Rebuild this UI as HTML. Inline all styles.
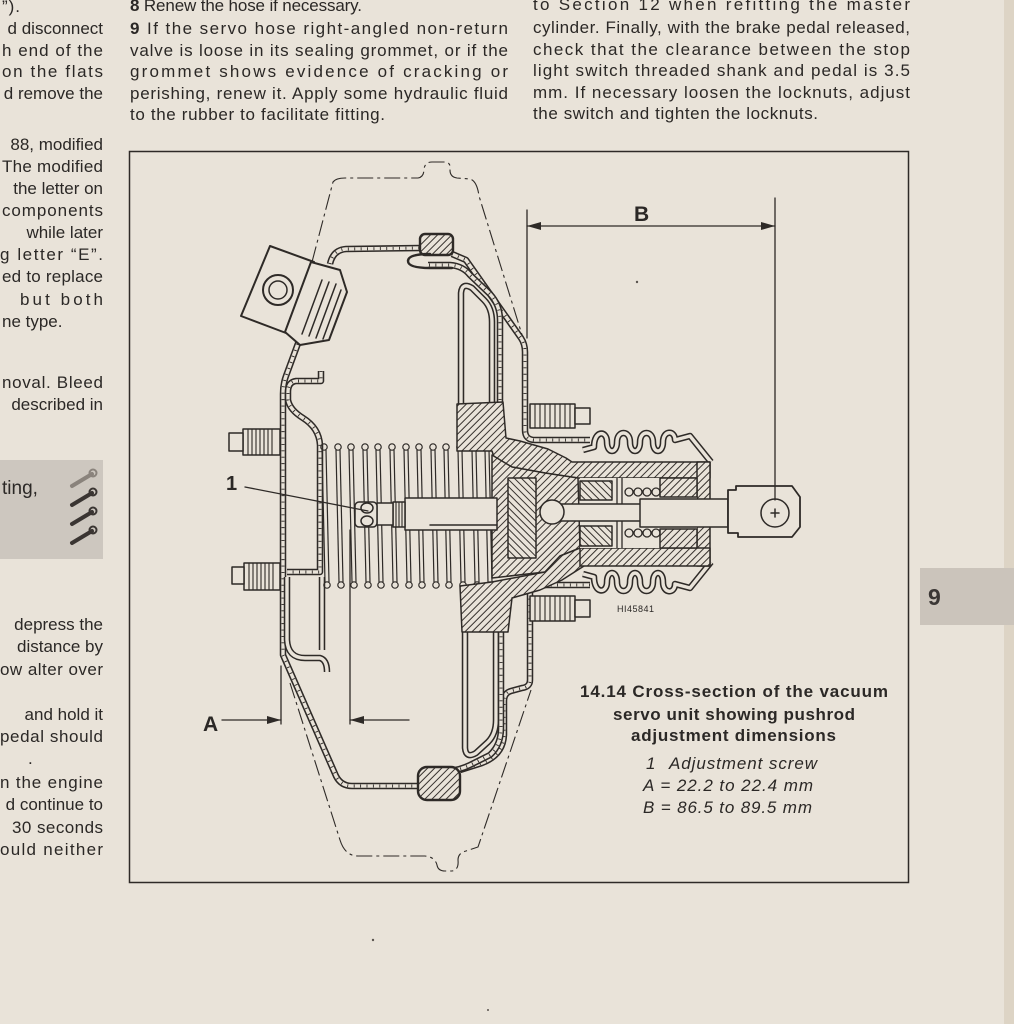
<!DOCTYPE html>
<html><head><meta charset="utf-8">
<style>
html,body{margin:0;padding:0;background:#e9e3d9;}
svg{display:block}
.t{font-family:"Liberation Sans",Arial,sans-serif;font-size:17px;fill:#2b2826}
.b{font-weight:bold}
.i{font-style:italic}
.l{fill:none;stroke:#2e2a27;stroke-width:1.5;stroke-linejoin:round;stroke-linecap:round}
.lf{stroke:#2e2a27;stroke-width:1.5;stroke-linejoin:round}
.d1{fill:none;stroke:#2e2a27;stroke-width:6.5;stroke-linejoin:round}
.d2{fill:none;stroke:#e9e3d9;stroke-width:3.4;stroke-linejoin:round}
.d3{fill:none;stroke:#2e2a27;stroke-width:3;stroke-dasharray:0.9 5.5}
.ph{fill:none;stroke:#2e2a27;stroke-width:1.1;stroke-dasharray:16 4 3 4}
.th{stroke:#2e2a27;stroke-width:1.1}
</style></head><body>
<svg width="1014" height="1024" viewBox="0 0 1014 1024" xmlns="http://www.w3.org/2000/svg">
<defs>
<pattern id="h" width="5" height="5" patternUnits="userSpaceOnUse" patternTransform="rotate(45)"><rect width="5" height="5" fill="#e9e3d9"/><line x1="0.5" y1="0" x2="0.5" y2="5" stroke="#37322e" stroke-width="1"/></pattern>
<pattern id="g" width="5" height="5" patternUnits="userSpaceOnUse" patternTransform="rotate(-45)"><rect width="5" height="5" fill="#e9e3d9"/><line x1="0.5" y1="0" x2="0.5" y2="5" stroke="#37322e" stroke-width="1"/></pattern>
<path id="sRear" d="M 300,338 L 286,376 Q 283,384 283,394 L 283,655 L 336,776 Q 341,786 352,786 L 420,786"/>
<path id="sFT1" d="M 330,264 Q 333,250 346,249 L 421,248"/>
<path id="sFT2" d="M 452,254 L 466,260 L 521,338 Q 525,344 525,352 L 525,430 Q 525,440 535,440 L 590,440"/>
<path id="sFB" d="M 590,585 L 538,585 Q 530,585 530,594 L 530,680 Q 530,687 522,688 L 511,691 Q 504,693 504,701 L 504,735 Q 503,755 482,763 L 460,770"/>
<path id="sPT" d="M 461,404 L 461,293 Q 462,282 472,288 L 484,300 Q 492,308 492,322 L 492,404"/>
<path id="sDT" d="M 500,432 L 500,320 Q 500,305 490,294 L 470,275 Q 463,266 450,265 L 428,265"/>
<path id="sPB" d="M 465,622 L 465,748 Q 466,759 476,753 L 488,742 Q 496,734 496,720 L 496,632"/>
<path id="sDB" d="M 501,630 L 501,728 Q 501,745 490,755 L 470,765 Q 460,770 448,771 L 428,772"/>
<path id="sRI" d="M 321,371 L 321,381 L 296,381 Q 288,382 288,392 L 288,400 Q 290,410 303,418 Q 319,428 320,445 L 320,572 L 287,572"/>
<path id="sRI3" d="M 322,577 L 322,650 M 287,577 L 287,640 Q 288,658 305,658 L 320,658 Q 327,660 327,672"/>
<path id="bootT" d="M 583,450 L 594,447 C 594,430 607,430 607,442 C 607,454 617,454 617,442 C 617,430 630,430 630,442 C 630,454 640,454 640,442 C 640,430 653,430 653,442 C 653,454 663,454 663,442 C 663,430 675,430 675,440 L 690,436 L 711,462"/>
<path id="bootB" d="M 583,574 L 594,577 C 594,594 607,594 607,582 C 607,570 617,570 617,582 C 617,594 630,594 630,582 C 630,570 640,570 640,582 C 640,594 653,594 653,582 C 653,570 663,570 663,582 C 663,594 675,594 675,584 L 690,588 L 711,562"/>
</defs>

<rect width="1014" height="1024" fill="#e9e3d9"/>
<rect x="1004" y="0" width="10" height="1024" fill="#ddd4c5"/>

<!-- grey boxes -->
<rect x="0" y="460" width="103" height="99" fill="#cdc7bf"/>
<rect x="920" y="568" width="94" height="57" fill="#cbc4bb"/>
<text x="928" y="605" class="t b" style="font-size:23px;fill:#3b3735">9</text>
<text x="2" y="494" class="t" style="font-size:19px">ting,</text>
<g stroke-linecap="round">
<line x1="72" y1="486" x2="92" y2="474" stroke="#8a837c" stroke-width="4"/>
<line x1="72" y1="505" x2="92" y2="493" stroke="#3a3532" stroke-width="4"/>
<line x1="72" y1="524" x2="92" y2="512" stroke="#3a3532" stroke-width="4"/>
<line x1="72" y1="543" x2="92" y2="531" stroke="#3a3532" stroke-width="4"/>
<circle cx="93" cy="473" r="3.5" fill="none" stroke="#8a837c" stroke-width="2"/>
<circle cx="93" cy="492" r="3.5" fill="none" stroke="#3a3532" stroke-width="2"/>
<circle cx="93" cy="511" r="3.5" fill="none" stroke="#3a3532" stroke-width="2"/>
<circle cx="93" cy="530" r="3.5" fill="none" stroke="#3a3532" stroke-width="2"/>
</g>

<!-- text columns -->
<g class="t">
<text x="130" y="11" textLength="232" lengthAdjust="spacing"><tspan class="b">8</tspan> Renew the hose if necessary.</text>
<text x="130" y="34" textLength="378" lengthAdjust="spacing"><tspan class="b">9</tspan> If the servo hose right-angled non-return</text>
<text x="130" y="56" textLength="378" lengthAdjust="spacing">valve is loose in its sealing grommet, or if the</text>
<text x="130" y="77" textLength="378" lengthAdjust="spacing">grommet shows evidence of cracking or</text>
<text x="130" y="99" textLength="378" lengthAdjust="spacing">perishing, renew it. Apply some hydraulic fluid</text>
<text x="130" y="120" textLength="255" lengthAdjust="spacing">to the rubber to facilitate fitting.</text>

<text x="533" y="10" textLength="377" lengthAdjust="spacing">to Section 12 when refitting the master</text>
<text x="533" y="33" textLength="377" lengthAdjust="spacing">cylinder. Finally, with the brake pedal released,</text>
<text x="533" y="55" textLength="377" lengthAdjust="spacing">check that the clearance between the stop</text>
<text x="533" y="76" textLength="377" lengthAdjust="spacing">light switch threaded shank and pedal is 3.5</text>
<text x="533" y="98" textLength="377" lengthAdjust="spacing">mm. If necessary loosen the locknuts, adjust</text>
<text x="533" y="119" textLength="285" lengthAdjust="spacing">the switch and tighten the locknuts.</text>

<text x="2" y="12" textLength="18" lengthAdjust="spacing">”).</text>
<text x="103" y="34" text-anchor="end">d disconnect</text>
<text x="2" y="56" textLength="101" lengthAdjust="spacing">h end of the</text>
<text x="2" y="77" textLength="101" lengthAdjust="spacing">on the flats</text>
<text x="103" y="99" text-anchor="end">d remove the</text>

<text x="103" y="150" text-anchor="end">88, modified</text>
<text x="2" y="172" textLength="101" lengthAdjust="spacing">The modified</text>
<text x="103" y="194" text-anchor="end">the letter on</text>
<text x="2" y="216" textLength="101" lengthAdjust="spacing">components</text>
<text x="103" y="238" text-anchor="end">while later</text>
<text x="0" y="260" textLength="103" lengthAdjust="spacing">g letter “E”.</text>
<text x="2" y="282" textLength="101" lengthAdjust="spacing">ed to replace</text>
<text x="20" y="305" textLength="83" lengthAdjust="spacing">but    both</text>
<text x="2" y="327">ne type.</text>
<text x="2" y="388" textLength="101" lengthAdjust="spacing">noval. Bleed</text>
<text x="103" y="410" text-anchor="end">described in</text>

<text x="103" y="630" text-anchor="end">depress the</text>
<text x="103" y="652" text-anchor="end">distance by</text>
<text x="0" y="675" textLength="103" lengthAdjust="spacing">ow alter over</text>
<text x="103" y="720" text-anchor="end">and hold it</text>
<text x="0" y="742" textLength="103" lengthAdjust="spacing">pedal should</text>
<text x="28" y="764">.</text>
<text x="0" y="788" textLength="103" lengthAdjust="spacing">n the engine</text>
<text x="103" y="810" text-anchor="end">d continue to</text>
<text x="12" y="833" textLength="91" lengthAdjust="spacing">30 seconds</text>
<text x="0" y="855" textLength="103" lengthAdjust="spacing">ould neither</text>
</g>

<!-- frame -->
<rect x="129.5" y="151.5" width="779" height="731" fill="none" stroke="#2e2a27" stroke-width="1.5"/>

<!-- phantom outline -->
<path class="ph" d="M 312,262 L 333,182 Q 336,178 345,178 L 418,178 Q 424,177 424,169 Q 425,162 432,162 L 446,162 Q 451,163 450,170 Q 450,177 457,178 L 470,179 Q 477,181 479,196 L 523,338"/>
<path class="ph" d="M 290,683 L 340,840 Q 345,856 358,856 L 425,856 Q 435,857 437,865 Q 438,871 445,871 L 452,871 Q 459,870 458,860 Q 458,853 466,851 L 478,847 L 531,690"/>

<!-- shells (double lines) -->
<g>
<use href="#sRear" class="d1"/><use href="#sRear" class="d2"/><use href="#sRear" class="d3"/>
<use href="#sFT1" class="d1"/><use href="#sFT1" class="d2"/><use href="#sFT1" class="d3"/>
<use href="#sFT2" class="d1"/><use href="#sFT2" class="d2"/><use href="#sFT2" class="d3"/>
<use href="#sFB" class="d1"/><use href="#sFB" class="d2"/><use href="#sFB" class="d3"/>
<use href="#sPT" class="d1"/><use href="#sPT" class="d2"/>
<use href="#sDT" class="d1"/><use href="#sDT" class="d2"/><use href="#sDT" class="d3"/>
<use href="#sPB" class="d1"/><use href="#sPB" class="d2"/>
<use href="#sDB" class="d1"/><use href="#sDB" class="d2"/><use href="#sDB" class="d3"/>
<use href="#sRI" class="d1"/><use href="#sRI" class="d2"/><use href="#sRI" class="d3"/>
<use href="#sRI3" class="d1"/><use href="#sRI3" class="d2"/>
<use href="#bootT" class="d1"/><use href="#bootT" class="d2"/>
<use href="#bootB" class="d1"/><use href="#bootB" class="d2"/>
</g>

<!-- flanges -->
<rect x="420" y="234" width="33" height="21" rx="5" fill="url(#h)" stroke="#2e2a27" stroke-width="2.4"/>
<path class="l" style="stroke-width:2.4" d="M 430,254 Q 408,254 408,261 Q 408,268 430,268 L 452,268"/>
<rect x="418" y="767" width="42" height="33" rx="9" fill="url(#h)" stroke="#2e2a27" stroke-width="2.4"/>

<!-- valve top-left -->
<polygon points="241,316 270,246 314,262 286,333" fill="#e9e3d9" class="lf" style="stroke-width:2"/>
<circle cx="278" cy="290" r="15" fill="none" class="lf" style="stroke-width:2"/>
<circle cx="278" cy="290" r="9" fill="none" class="lf"/>
<polygon points="285,332 311,262 340,270 347,292 329,340 300,345" fill="#e9e3d9" class="lf" style="stroke-width:2"/>
<g class="l">
<line x1="302" y1="334" x2="322" y2="280"/>
<line x1="309" y1="336" x2="329" y2="282"/>
<line x1="316" y1="338" x2="336" y2="284"/>
<line x1="323" y1="339" x2="341" y2="290"/>
</g>

<!-- studs -->
<g fill="#e9e3d9" class="lf">
<rect x="243" y="429" width="37" height="26"/><rect x="229" y="433" width="14" height="18"/>
<rect x="244" y="563" width="36" height="27"/><rect x="232" y="567" width="12" height="17"/>
<rect x="530" y="404" width="45" height="24"/><rect x="575" y="408" width="15" height="16"/>
<rect x="530" y="596" width="45" height="25"/><rect x="575" y="600" width="15" height="17"/>
</g>
<g class="th">
<line x1="248" y1="429" x2="248" y2="455"/><line x1="252" y1="429" x2="252" y2="455"/><line x1="256" y1="429" x2="256" y2="455"/><line x1="260" y1="429" x2="260" y2="455"/><line x1="264" y1="429" x2="264" y2="455"/><line x1="268" y1="429" x2="268" y2="455"/><line x1="272" y1="429" x2="272" y2="455"/>
<line x1="249" y1="563" x2="249" y2="590"/><line x1="253" y1="563" x2="253" y2="590"/><line x1="257" y1="563" x2="257" y2="590"/><line x1="261" y1="563" x2="261" y2="590"/><line x1="265" y1="563" x2="265" y2="590"/><line x1="269" y1="563" x2="269" y2="590"/><line x1="273" y1="563" x2="273" y2="590"/>
<line x1="535" y1="404" x2="535" y2="428"/><line x1="540" y1="404" x2="540" y2="428"/><line x1="545" y1="404" x2="545" y2="428"/><line x1="550" y1="404" x2="550" y2="428"/><line x1="555" y1="404" x2="555" y2="428"/><line x1="560" y1="404" x2="560" y2="428"/><line x1="565" y1="404" x2="565" y2="428"/><line x1="570" y1="404" x2="570" y2="428"/>
<line x1="535" y1="596" x2="535" y2="621"/><line x1="540" y1="596" x2="540" y2="621"/><line x1="545" y1="596" x2="545" y2="621"/><line x1="550" y1="596" x2="550" y2="621"/><line x1="555" y1="596" x2="555" y2="621"/><line x1="560" y1="596" x2="560" y2="621"/><line x1="565" y1="596" x2="565" y2="621"/><line x1="570" y1="596" x2="570" y2="621"/>
</g>

<!-- spring -->
<g fill="none" stroke="#2e2a27" stroke-width="1.2">
<circle cx="324" cy="447" r="3.2"/><circle cx="327" cy="585" r="3.2"/><line x1="322" y1="450" x2="325" y2="582"/><line x1="326" y1="450" x2="329" y2="582"/>
<circle cx="338" cy="447" r="3.2"/><circle cx="341" cy="585" r="3.2"/><line x1="336" y1="450" x2="339" y2="582"/><line x1="340" y1="450" x2="343" y2="582"/>
<circle cx="351" cy="447" r="3.2"/><circle cx="354" cy="585" r="3.2"/><line x1="349" y1="450" x2="352" y2="582"/><line x1="353" y1="450" x2="356" y2="582"/>
<circle cx="365" cy="447" r="3.2"/><circle cx="368" cy="585" r="3.2"/><line x1="363" y1="450" x2="366" y2="582"/><line x1="367" y1="450" x2="370" y2="582"/>
<circle cx="378" cy="447" r="3.2"/><circle cx="381" cy="585" r="3.2"/><line x1="376" y1="450" x2="379" y2="582"/><line x1="380" y1="450" x2="383" y2="582"/>
<circle cx="392" cy="447" r="3.2"/><circle cx="395" cy="585" r="3.2"/><line x1="390" y1="450" x2="393" y2="582"/><line x1="394" y1="450" x2="397" y2="582"/>
<circle cx="406" cy="447" r="3.2"/><circle cx="409" cy="585" r="3.2"/><line x1="404" y1="450" x2="407" y2="582"/><line x1="408" y1="450" x2="411" y2="582"/>
<circle cx="419" cy="447" r="3.2"/><circle cx="422" cy="585" r="3.2"/><line x1="417" y1="450" x2="420" y2="582"/><line x1="421" y1="450" x2="424" y2="582"/>
<circle cx="433" cy="447" r="3.2"/><circle cx="436" cy="585" r="3.2"/><line x1="431" y1="450" x2="434" y2="582"/><line x1="435" y1="450" x2="438" y2="582"/>
<circle cx="446" cy="447" r="3.2"/><circle cx="449" cy="585" r="3.2"/><line x1="444" y1="450" x2="447" y2="582"/><line x1="448" y1="450" x2="451" y2="582"/>
<circle cx="460" cy="447" r="3.2"/><circle cx="463" cy="585" r="3.2"/><line x1="458" y1="450" x2="461" y2="582"/><line x1="462" y1="450" x2="465" y2="582"/>
<circle cx="474" cy="447" r="3.2"/><circle cx="477" cy="585" r="3.2"/><line x1="472" y1="450" x2="475" y2="582"/><line x1="476" y1="450" x2="479" y2="582"/>
<circle cx="487" cy="447" r="3.2"/><circle cx="490" cy="585" r="3.2"/><line x1="485" y1="450" x2="488" y2="582"/><line x1="489" y1="450" x2="492" y2="582"/>
</g>

<!-- hub -->
<polygon fill="url(#h)" class="lf" points="457,404 503,402 506,438 520,441 548,449 566,458 572,462 710,462 710,478 578,478 545,473 512,467 496,463 492,451 457,451"/>
<polygon fill="url(#h)" class="lf" points="492,455 512,467 545,473 578,478 580,548 560,556 545,572 492,578"/>
<rect x="508" y="478" width="28" height="80" fill="url(#g)" class="lf"/>
<polygon fill="url(#h)" class="lf" points="460,586 492,582 545,572 560,556 580,548 584,566 562,580 540,590 512,598 508,632 462,632"/>
<rect x="697" y="462" width="13" height="104" fill="url(#h)" class="lf"/>
<rect x="580" y="548" width="130" height="18" fill="url(#h)" class="lf"/>
<rect x="580" y="478" width="117" height="70" fill="#e9e3d9"/>
<rect x="580" y="481" width="32" height="19" fill="url(#g)" class="lf"/>
<rect x="580" y="526" width="32" height="20" fill="url(#g)" class="lf"/>
<rect x="660" y="478" width="37" height="19" fill="url(#h)" class="lf"/>
<rect x="660" y="529" width="37" height="19" fill="url(#h)" class="lf"/>
<g fill="none" stroke="#2e2a27" stroke-width="1.3">
<line x1="617" y1="478" x2="617" y2="548"/><line x1="622" y1="478" x2="622" y2="548"/>
<circle cx="629" cy="492" r="4"/><circle cx="638" cy="492" r="4"/><circle cx="647" cy="492" r="4"/><circle cx="656" cy="492" r="4"/>
<circle cx="629" cy="533" r="4"/><circle cx="638" cy="533" r="4"/><circle cx="647" cy="533" r="4"/><circle cx="656" cy="533" r="4"/>
</g>
<rect x="560" y="504" width="85" height="17" fill="#e9e3d9" class="lf"/>
<rect x="640" y="499" width="88" height="28" fill="#e9e3d9" class="lf"/>
<circle cx="552" cy="512" r="12" fill="#e9e3d9" class="lf"/>

<!-- clevis -->
<path fill="#e9e3d9" class="lf" style="stroke-width:1.8" d="M 728,490 L 736,490 L 736,486 L 792,486 L 800,497 L 800,527 L 792,537 L 738,537 L 738,533 L 728,533 Z"/>
<circle cx="775" cy="513" r="14" fill="none" class="lf"/>
<line class="l" x1="771" y1="513" x2="779" y2="513"/><line class="l" x1="775" y1="509" x2="775" y2="517"/>

<!-- pushrod / screw -->
<rect x="405" y="498" width="92" height="32" fill="#e9e3d9" class="lf"/>
<line class="l" x1="430" y1="525" x2="497" y2="525"/>
<rect x="393" y="502" width="12" height="25" fill="#e9e3d9" class="lf"/>
<g class="th"><line x1="396" y1="502" x2="396" y2="527"/><line x1="399" y1="502" x2="399" y2="527"/><line x1="402" y1="502" x2="402" y2="527"/></g>
<rect x="377" y="503" width="16" height="22" fill="#e9e3d9" class="lf"/>
<rect x="355" y="502" width="22" height="25" rx="4" fill="#e9e3d9" class="lf"/>
<ellipse cx="367" cy="508" rx="6" ry="5" fill="none" class="lf"/>
<ellipse cx="367" cy="521" rx="6" ry="5" fill="none" class="lf"/>

<!-- dimensions -->
<g class="l" style="stroke-width:1.3">
<line x1="527" y1="210" x2="527" y2="338"/>
<line x1="775" y1="198" x2="775" y2="500"/>
<line x1="527" y1="226" x2="775" y2="226"/>
<line x1="222" y1="720" x2="281" y2="720"/>
<line x1="281" y1="666" x2="281" y2="724"/>
<line x1="350" y1="530" x2="350" y2="724"/>
<line x1="350" y1="720" x2="409" y2="720"/>
<line x1="245" y1="487" x2="368" y2="511"/>
</g>
<g fill="#2e2a27">
<polygon points="527,226 541,222 541,230"/>
<polygon points="775,226 761,222 761,230"/>
<polygon points="281,720 267,716 267,724"/>
<polygon points="350,720 364,716 364,724"/>
</g>
<text x="634" y="221" class="t b" style="font-size:21px">B</text>
<text x="203" y="731" class="t b" style="font-size:21px">A</text>
<text x="226" y="490" class="t b" style="font-size:20px">1</text>
<text x="617" y="612" class="t" style="font-size:9px;letter-spacing:0.5px">HI45841</text>

<!-- caption -->
<g class="t">
<text x="580" y="697" class="b" textLength="308" lengthAdjust="spacing">14.14 Cross-section of the vacuum</text>
<text x="613" y="720" class="b" textLength="242" lengthAdjust="spacing">servo unit showing pushrod</text>
<text x="631" y="741" class="b" textLength="205" lengthAdjust="spacing">adjustment dimensions</text>
<text x="646" y="769" class="i">1</text>
<text x="669" y="769" class="i" textLength="148" lengthAdjust="spacing">Adjustment screw</text>
<text x="643" y="791" class="i" textLength="170" lengthAdjust="spacing">A = 22.2 to 22.4 mm</text>
<text x="643" y="813" class="i" textLength="169" lengthAdjust="spacing">B = 86.5 to 89.5 mm</text>
</g>

<!-- specks -->
<g fill="#5a544f">
<circle cx="637" cy="282" r="1.2"/><circle cx="373" cy="940" r="1.2"/><circle cx="488" cy="1010" r="1"/>
</g>
</svg>
</body></html>
